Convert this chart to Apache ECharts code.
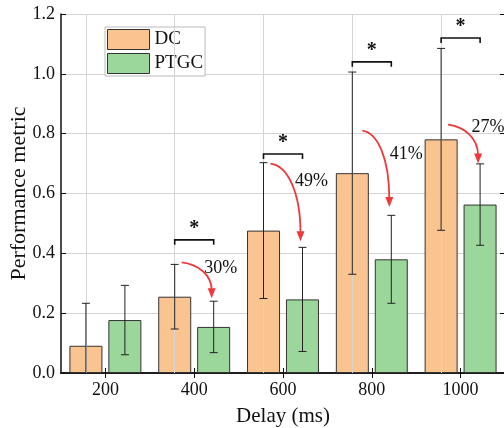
<!DOCTYPE html>
<html>
<head>
<meta charset="utf-8">
<script src="https://cdn.jsdelivr.net/npm/echarts@6/dist/echarts.min.js"></script>
<style>
html, body { margin: 0; padding: 0; background: #fff; }
#chart-panel { width: 504px; height: 428px; }
</style>
</head>
<body>
<div id="chart-panel"></div>
<script>
// data
var delays = ['200', '400', '600', '800', '1000'];
var dcMean = [0.091, 0.255, 0.476, 0.668, 0.781];
var dcErr = [0.142, 0.108, 0.227, 0.338, 0.304];
var ptgcMean = [0.177, 0.154, 0.246, 0.380, 0.563];
var ptgcErr = [0.116, 0.086, 0.174, 0.147, 0.136];
// significance brackets (y value) and reduction arrows
var sigLevel = [null, 0.445, 0.732, 1.04, 1.12];
var arrowFrom = [null, 0.37, 0.70, 0.81, 0.83];
var arrowTo = [null, 0.25, 0.44, 0.555, 0.70];
var pctText = ['', '30%', '49%', '41%', '27%'];
var pctLevel = [null, 0.35, 0.64, 0.73, 0.82];

var font = '"Liberation Serif", "Times New Roman", Times, serif';
var barOff = 19.5;     // half distance between paired bar centres
var pctDx = [0, 10, 12, 18, 11];

var myChart = echarts.init(document.getElementById('chart-panel'), null, {renderer: 'canvas'});

function errItem(params, api) {
    var i = api.value(0);
    var m = api.value(1), e = api.value(2);
    var off = api.value(3);
    var cs = params.coordSys;
    var bottom = cs.y + cs.height;
    var top = api.coord([i, m + e]);
    var low = api.coord([i, m - e]);
    var x = top[0] + off;
    var y1 = top[1], y2 = Math.min(low[1], bottom);
    var st = {stroke: '#222', lineWidth: 1};
    var kids = [
        {type: 'line', shape: {x1: x, y1: y1, x2: x, y2: y2}, style: st},
        {type: 'line', shape: {x1: x - 4, y1: y1, x2: x + 4, y2: y1}, style: st}
    ];
    if (low[1] < bottom) {
        kids.push({type: 'line', shape: {x1: x - 4, y1: y2, x2: x + 4, y2: y2}, style: st});
    }
    return {type: 'group', children: kids};
}

var errData = [];
for (var i = 0; i < delays.length; i++) {
    errData.push([i, dcMean[i], dcErr[i], -barOff]);
    errData.push([i, ptgcMean[i], ptgcErr[i], barOff]);
}

var annData = [];
for (var k = 0; k < delays.length; k++) {
    if (sigLevel[k] != null) annData.push([k, sigLevel[k], arrowFrom[k], arrowTo[k], pctLevel[k]]);
}

function annItem(params, api) {
    var i = api.value(0);
    var b = api.coord([i, api.value(1)]);
    var s = api.coord([i, api.value(2)]);
    var t = api.coord([i, api.value(3)]);
    var p = api.coord([i, api.value(4)]);
    var cx = b[0];
    var xl = cx - barOff, xr = cx + barOff;
    var by = b[1];
    var blk = {stroke: '#111', lineWidth: 1.6, fill: null};
    var sx = xl + 7 + (i == 3 ? 3 : 0), sy = s[1];
    var ex = xr - 2, ey = t[1];
    var red = '#f0383c';
    return {type: 'group', children: [
        {type: 'polyline', shape: {points: [[xl, by + 5], [xl, by], [xr, by], [xr, by + 5]]}, style: blk},
        {type: 'text', x: cx, y: by - 1, style: {text: '*', font: 'bold 20px ' + font, fill: '#111', align: 'center', verticalAlign: 'bottom'}},
        {type: 'bezierCurve', shape: {x1: sx, y1: sy, cpx1: sx + (ex - sx) * 0.55, cpy1: sy + 2, cpx2: ex, cpy2: sy + (ey - sy) * 0.35, x2: ex, y2: ey - 8},
            style: {stroke: red, lineWidth: 1.8, fill: null}},
        {type: 'polygon', shape: {points: [[ex - 4, ey - 10], [ex + 4, ey - 10], [ex, ey]]}, style: {fill: red}},
        {type: 'text', x: cx + pctDx[i], y: p[1], style: {text: pctText[i], font: '18px ' + font, fill: '#111', align: 'left', verticalAlign: 'middle'}}
    ]};
}

var option = {
    animation: false,
    backgroundColor: '#fff',
    textStyle: {fontFamily: font},
    grid: {left: 61, top: 14, width: 444, height: 359, containLabel: false, outerBoundsMode: 'none'},
    legend: {
        left: 105, top: 27,
        orient: 'vertical',
        icon: 'rect',
        itemWidth: 42, itemHeight: 20, itemGap: 3,
        padding: [2, 2, 2, 2],
        borderColor: '#bbb', borderWidth: 1,
        backgroundColor: '#fff',
        itemStyle: {borderColor: '#333', borderWidth: 1},
        textStyle: {fontFamily: font, fontSize: 19, color: '#111'},
        data: ['DC', 'PTGC']
    },
    xAxis: [{
        type: 'category',
        data: delays,
        name: 'Delay (ms)',
        nameLocation: 'middle',
        nameGap: 33,
        nameTextStyle: {fontFamily: font, fontSize: 21, color: '#111'},
        axisLine: {lineStyle: {color: '#111', width: 1.5}},
        axisTick: {show: true, inside: true, alignWithLabel: true, length: 5, lineStyle: {color: '#111'}},
        axisLabel: {fontFamily: font, fontSize: 18, color: '#111', margin: 8},
        splitLine: {show: false}
    }, {
        type: 'category',
        data: delays,
        position: 'top',
        axisLine: {lineStyle: {color: '#111', width: 1.5}},
        axisTick: {show: true, inside: true, alignWithLabel: true, length: 5, lineStyle: {color: '#111'}},
        axisLabel: {show: false}
    }],
    yAxis: [{
        type: 'value',
        min: 0, max: 1.2, interval: 0.2,
        name: 'Performance metric',
        nameLocation: 'middle',
        nameGap: 31,
        nameMoveOverlap: false,
        nameTextStyle: {fontFamily: font, fontSize: 22, color: '#111'},
        axisLine: {show: true, lineStyle: {color: '#111', width: 1.5}},
        axisTick: {show: true, inside: true, length: 5, lineStyle: {color: '#111'}},
        axisLabel: {fontFamily: font, fontSize: 18, color: '#111', margin: 6, formatter: function (v) { return v.toFixed(1); }},
        splitLine: {lineStyle: {color: '#d4d4d4', width: 1}}
    }, {
        type: 'value',
        min: 0, max: 1.2, interval: 0.2,
        position: 'right',
        axisLine: {show: true, lineStyle: {color: '#111', width: 1.5}},
        axisTick: {show: true, inside: true, length: 5, lineStyle: {color: '#111'}},
        axisLabel: {show: false},
        splitLine: {show: false}
    }],
    series: [
        {
            name: 'DC', type: 'bar', barWidth: 33, barGap: '18%',
            itemStyle: {color: '#fac491', borderColor: '#333', borderWidth: 1},
            data: dcMean,
            markLine: {
                silent: true, symbol: 'none', label: {show: false},
                lineStyle: {color: '#d4d4d4', width: 1, type: 'solid'},
                data: delays.map(function (d) { return {xAxis: d}; })
            },
            z: 2
        },
        {
            name: 'PTGC', type: 'bar', barWidth: 33,
            itemStyle: {color: '#9bd69b', borderColor: '#333', borderWidth: 1},
            data: ptgcMean,
            z: 2
        },
        {
            type: 'custom', renderItem: errItem, data: errData, z: 5,
            encode: {x: 0, y: 1}, silent: true
        },
        {
            type: 'custom', renderItem: annItem, data: annData, z: 6,
            encode: {x: 0, y: 1}, silent: true
        }
    ]
};
myChart.setOption(option);
</script>
</body>
</html>
